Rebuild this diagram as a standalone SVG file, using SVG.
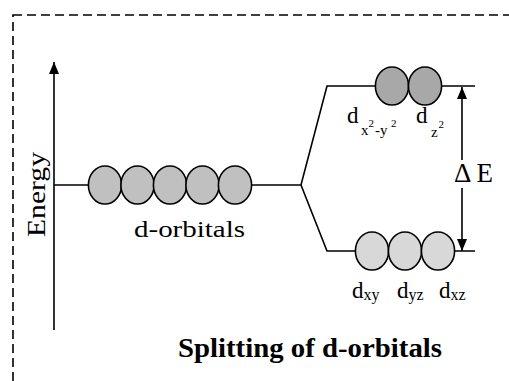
<svg xmlns="http://www.w3.org/2000/svg" width="509" height="381" viewBox="0 0 509 381" font-family="Liberation Serif, Times New Roman, serif">
<style>
text{font-family:"Liberation Serif","Times New Roman",serif}
.t{fill:#000}
.ln{stroke:#000;stroke-width:1.6;fill:none}
.orb{stroke:#000;stroke-width:1.6}
.mid{fill:#c0c0c0}
.up{fill:#a8a8a8}
.lo{fill:#d8d8d8}
</style>
<defs>
<marker id="ah" viewBox="0 0 12 10" refX="12" refY="5" markerWidth="12" markerHeight="10" markerUnits="userSpaceOnUse" orient="auto">
<path d="M0,0 L12,5 L0,10 Z" fill="#000"/>
</marker>
</defs>
<rect x="13" y="15" width="620" height="620" fill="none" stroke="#000" stroke-width="1.6" stroke-dasharray="9,5"/>
<g id="connectors">
<line class="ln" x1="54" y1="330" x2="54" y2="62" marker-end="url(#ah)"/>
<line class="ln" x1="54" y1="185" x2="89" y2="185"/>
<polyline class="ln" points="251,185 301,185 327,86 475,86"/>
<polyline class="ln" points="301,185 327,251 475,251"/>
<line class="ln" x1="462" y1="160" x2="462" y2="87" marker-end="url(#ah)"/>
<line class="ln" x1="462" y1="188" x2="462" y2="251" marker-end="url(#ah)"/>
</g>
<g id="energy-axis-label">
<text class="t" font-size="26" transform="translate(45,237) rotate(-90)" textLength="85" lengthAdjust="spacingAndGlyphs">Energy</text>
</g>
<g id="d-orbitals">
<ellipse class="orb mid" cx="105" cy="185" rx="16.6" ry="19"/>
<ellipse class="orb mid" cx="137.5" cy="185" rx="16.6" ry="19"/>
<ellipse class="orb mid" cx="170" cy="185" rx="16.6" ry="19"/>
<ellipse class="orb mid" cx="202.5" cy="185" rx="16.6" ry="19"/>
<ellipse class="orb mid" cx="235" cy="185" rx="16.6" ry="19"/>
<text class="t" x="134" y="237" font-size="24" textLength="111" lengthAdjust="spacingAndGlyphs">d-orbitals</text>
</g>
<g id="eg-orbitals">
<ellipse class="orb up" cx="392" cy="86" rx="16.6" ry="19"/>
<ellipse class="orb up" cx="425" cy="86" rx="16.6" ry="19"/>
<text class="t" x="347" y="123" font-size="23">d</text>
<text class="t" x="361" y="135" font-size="15">x</text>
<text class="t" x="368.5" y="127" font-size="11">2</text>
<text class="t" x="375" y="135" font-size="15">-y</text>
<text class="t" x="391" y="127" font-size="11">2</text>
<text class="t" x="416" y="123" font-size="23">d</text>
<text class="t" x="431" y="137" font-size="15">z</text>
<text class="t" x="438.5" y="128" font-size="11">2</text>
</g>
<g id="t2g-orbitals">
<ellipse class="orb lo" cx="372" cy="251" rx="16.6" ry="19"/>
<ellipse class="orb lo" cx="405" cy="251" rx="16.6" ry="19"/>
<ellipse class="orb lo" cx="438" cy="251" rx="16.6" ry="19"/>
<text class="t" x="352" y="298" font-size="23">d<tspan font-size="16" dy="2">xy</tspan></text>
<text class="t" x="397" y="298" font-size="23">d<tspan font-size="16" dy="2">yz</tspan></text>
<text class="t" x="439" y="298" font-size="23">d<tspan font-size="16" dy="2">xz</tspan></text>
</g>
<g id="delta-e">
<text class="t" x="454" y="182" font-size="27">Δ E</text>
</g>
<g id="title">
<text class="t" x="178" y="357" font-size="28" font-weight="bold" textLength="264" lengthAdjust="spacingAndGlyphs">Splitting of d-orbitals</text>
</g>
</svg>
